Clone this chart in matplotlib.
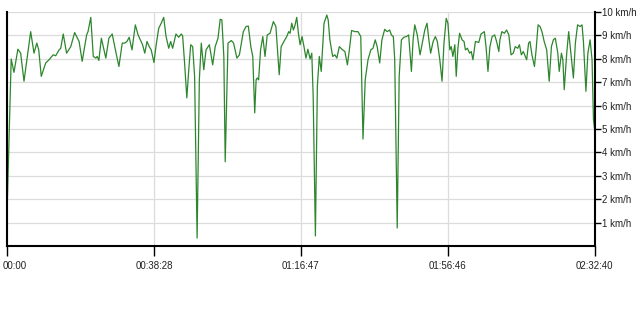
import matplotlib
matplotlib.use("Agg")
import matplotlib.pyplot as plt
import matplotlib.transforms as mtransforms

# distance along the route (km) and speed (km/h)
dist_km = [
    0.00, 0.14, 0.24, 0.38, 0.48, 0.60, 0.72, 0.84, 0.96, 1.06, 1.13, 1.22, 1.38, 1.50,
    1.65, 1.74, 1.86, 1.92, 2.01, 2.13, 2.28, 2.42, 2.49, 2.58, 2.69, 2.85, 2.90, 3.00,
    3.09, 3.18, 3.23, 3.29, 3.38, 3.54, 3.65, 3.77, 3.86, 4.01, 4.13,
    4.22, 4.30, 4.38, 4.48, 4.60, 4.70, 4.78, 4.86, 4.94, 5.02, 5.10, 5.17, 5.27, 5.34,
    5.44, 5.53, 5.62, 5.70, 5.80, 5.87, 5.94, 6.06, 6.16, 6.25, 6.30, 6.37, 6.45, 6.52,
    6.59, 6.66, 6.73, 6.82, 6.90, 6.97, 7.06, 7.14, 7.26, 7.38, 7.47, 7.57, 7.65, 7.71,
    7.78, 7.83, 7.93, 8.05, 8.13, 8.25, 8.34,
    8.48, 8.58, 8.66, 8.75, 8.82, 8.89, 8.94, 8.98, 9.03, 9.10, 9.18, 9.26, 9.34, 9.44,
    9.56, 9.65, 9.77, 9.84, 9.94, 10.04, 10.11, 10.16, 10.22, 10.28, 10.34, 10.40, 10.46,
    10.52, 10.59, 10.66, 10.73, 10.80, 10.88, 10.94, 10.99, 11.07, 11.14, 11.21, 11.28,
    11.38, 11.48, 11.53, 11.59, 11.69, 11.77, 11.84, 11.93, 12.05, 12.13, 12.22, 12.29,
    12.37, 12.49,
    12.60, 12.70, 12.78, 12.86, 12.96, 13.06, 13.14, 13.22, 13.29, 13.38, 13.46, 13.56,
    13.65, 13.74, 13.80, 13.87, 13.92, 14.01, 14.08, 14.16, 14.25, 14.34, 14.42, 14.52,
    14.58, 14.64, 14.73, 14.83, 14.90, 15.00, 15.08, 15.14, 15.21, 15.30, 15.38, 15.45,
    15.54, 15.62, 15.69, 15.77, 15.83, 15.90, 15.95, 16.01, 16.08, 16.13, 16.19, 16.25,
    16.34, 16.41, 16.46, 16.53, 16.61, 16.67, 16.73, 16.82,
    16.94, 17.02, 17.14, 17.20, 17.27, 17.34, 17.42, 17.51, 17.58, 17.66, 17.70, 17.77,
    17.86, 17.94, 18.02, 18.10, 18.18, 18.25, 18.34, 18.40, 18.47, 18.54, 18.61, 18.66,
    18.73, 18.78, 18.85, 18.94, 19.00, 19.07, 19.14, 19.21, 19.29, 19.38, 19.47, 19.55,
    19.62, 19.69, 19.78, 19.83, 19.91, 19.96, 20.01, 20.10, 20.17, 20.25, 20.34, 20.41,
    20.49, 20.58, 20.65, 20.70, 20.79, 20.86, 20.94, 21.01, 21.06, 21.10,
]
speed = [
    1.80, 7.99, 7.42, 8.41, 8.24, 7.04, 8.10, 9.16, 8.24, 8.67, 8.38, 7.25, 7.82, 7.96,
    8.17, 8.13, 8.38, 8.45, 9.06, 8.24, 8.52, 9.12, 8.95, 8.74, 7.89, 9.02, 9.16, 9.77,
    8.10, 8.03, 8.10, 7.93, 8.88, 8.03, 8.88, 9.06, 8.52, 7.67, 8.67,
    8.67, 8.74, 8.92, 8.38, 9.45, 9.02, 8.81, 8.60, 8.24, 8.74, 8.52, 8.38, 7.84, 8.52,
    9.30, 9.52, 9.77, 8.98, 8.45, 8.74, 8.45, 9.06, 8.92, 9.06, 8.98, 7.82, 6.33, 7.53,
    8.60, 8.52, 7.25, 0.34, 7.10, 8.67, 7.53, 8.38, 8.60, 7.74, 8.52, 8.88, 9.69, 9.66,
    8.10, 3.60, 8.67, 8.78, 8.67, 8.03, 8.17,
    9.16, 9.38, 9.40, 8.52, 8.10, 5.69, 7.10, 7.18, 7.10, 8.38, 8.95, 8.10, 9.02, 9.09,
    9.59, 9.38, 7.32, 8.52, 8.74, 8.95, 9.16, 9.09, 9.52, 9.23, 9.45, 9.77, 9.09,
    8.60, 8.95, 8.52, 8.03, 8.41, 7.99, 8.24, 6.40, 0.43, 6.82, 8.10, 7.46,
    9.52, 9.87, 9.66, 8.81, 8.10, 8.17, 8.03, 8.52, 8.38, 8.31, 7.74, 8.38,
    9.21, 9.16,
    9.16, 8.95, 4.57, 7.10, 7.96, 8.38, 8.45, 8.81, 8.52, 7.82, 8.81, 9.26,
    9.16, 9.23, 9.02, 8.95, 7.96, 0.77, 7.25, 8.81, 8.92, 8.95, 9.02, 7.46,
    8.81, 9.45, 9.02, 8.17, 8.60, 9.23, 9.52, 8.88, 8.24, 8.74, 8.95, 8.74,
    7.96, 7.04, 8.67, 9.73, 9.52, 8.38, 8.52, 8.10, 8.60, 7.25, 8.45, 9.09,
    8.81, 8.74, 8.38, 8.45, 8.24, 8.31, 7.96, 8.74,
    8.70, 9.06, 9.16, 8.52, 7.46, 8.52, 8.95, 9.02, 8.74, 8.31, 8.81, 9.16,
    9.09, 9.23, 9.02, 8.17, 8.24, 8.52, 8.45, 8.60, 8.17, 8.31, 8.10, 7.96,
    8.67, 8.74, 8.17, 7.67, 8.38, 9.45, 9.38, 9.16, 8.74, 8.38, 7.04, 8.52,
    8.81, 8.88, 8.24, 7.46, 8.24, 7.96, 6.68, 8.24, 9.16, 8.24, 7.18, 8.67,
    9.45, 9.38, 9.45, 8.74, 6.61, 8.24, 8.81, 7.96, 5.40, 5.00,
]

total_km = 21.1
tick_km = [0, total_km * 0.25, total_km * 0.5, total_km * 0.75, total_km]
tick_labels = ["00:00", "00:38:28", "01:16:47", "01:56:46", "02:32:40"]
speed_ticks = [1, 2, 3, 4, 5, 6, 7, 8, 9, 10]
speed_labels = [f"{v} km/h" for v in speed_ticks]

plt.rcParams["font.family"] = ["Liberation Sans", "DejaVu Sans"]
plt.rcParams["font.size"] = 7

fig = plt.figure(figsize=(6.4, 3.09), dpi=100)
ax = fig.add_axes([0.0114, 0.2039, 0.9176, 0.7573])

ax.plot(dist_km, speed, color="#2d862d", lw=0.9)

ax.set_xlim(0, total_km)
ax.set_ylim(0, 10)

ax.set_xticks(tick_km)
ax.set_xticklabels(tick_labels, color="#222222")
ax.set_yticks(speed_ticks)
ax.set_yticklabels(speed_labels, color="#222222")
ax.yaxis.tick_right()
ax.tick_params(axis="y", direction="out", length=4, width=1, pad=1)
ax.tick_params(axis="x", direction="out", length=7, width=1, pad=4)

# first label sits inside the figure edge
lab0 = ax.get_xticklabels()[0]
lab0.set_horizontalalignment("left")
lab0.set_transform(lab0.get_transform() + mtransforms.ScaledTranslation(-3.5 / 72, 0, fig.dpi_scale_trans))

ax.grid(True, color="#dcdcdc", lw=0.9)
ax.set_axisbelow(True)

for side in ["left", "right", "bottom"]:
    ax.spines[side].set_linewidth(1.5)
    ax.spines[side].set_color("black")
ax.spines["top"].set_visible(False)

fig.savefig("out.png", dpi=100, facecolor="white")
